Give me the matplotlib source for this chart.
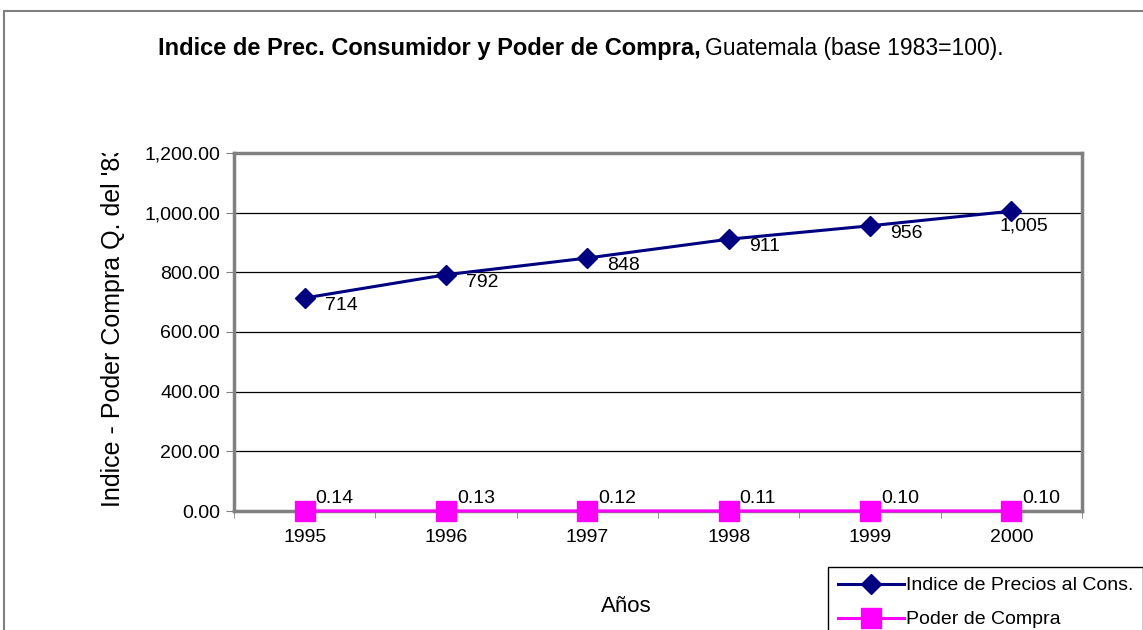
import matplotlib.pyplot as plt
from matplotlib.patches import Rectangle
from matplotlib.transforms import Bbox, TransformedBbox
from matplotlib.ticker import FuncFormatter

plt.rcParams['font.family'] = ['Liberation Sans', 'DejaVu Sans']

# Datos
anios = ['1995', '1996', '1997', '1998', '1999', '2000']
indice_precios = [714, 792, 848, 911, 956, 1005]
poder_compra = [0.14, 0.13, 0.12, 0.11, 0.10, 0.10]
etiquetas_indice = ['714', '792', '848', '911', '956', '1,005']
etiquetas_poder = ['0.14', '0.13', '0.12', '0.11', '0.10', '0.10']

W, H = 1143, 630
fig = plt.figure(figsize=(W / 100, H / 100), dpi=100)

# borde del area del grafico (estilo Excel)
fig.patches.append(Rectangle((4 / W, -0.1), 1.2, 1 - 11 / H + 0.1, transform=fig.transFigure,
                             facecolor='none', edgecolor='#808080', linewidth=1.5))

ax = fig.add_axes([234 / W, 1 - 511 / H, (1082 - 234) / W, (511 - 153) / H])
x = list(range(len(anios)))

ax.plot(x, indice_precios, color='#000080', linewidth=2.2, marker='D', markersize=10,
        label='Indice de Precios al Cons.', zorder=3, clip_on=False)
ax.plot(x, poder_compra, color='#FF00FF', linewidth=2.2, marker='s', markersize=14,
        label='Poder de Compra', zorder=3, clip_on=False)

ax.set_xlim(-0.5, len(anios) - 0.5)
ax.set_ylim(0, 1200)
ax.set_yticks(range(0, 1201, 200))
ax.yaxis.set_major_formatter(FuncFormatter(lambda v, p: f'{v:,.2f}'))
ax.grid(axis='y', color='black', linewidth=0.9)
ax.set_axisbelow(True)

ax.set_xticks(x)
ax.set_xticklabels(anios)
ax.set_xticks([i - 0.5 for i in range(len(anios) + 1)], minor=True)
ax.tick_params(axis='x', which='major', length=0, pad=13, labelsize=14)
ax.tick_params(axis='x', which='minor', length=5, direction='out', color='#808080')
ax.tick_params(axis='y', length=6, direction='out', labelsize=14, pad=4, color='#808080')

for s in ax.spines.values():
    s.set_color('#808080')
    s.set_linewidth(2.5)

# etiquetas de datos
for i, (v, t) in enumerate(zip(indice_precios, etiquetas_indice)):
    dx = 20 if i < len(anios) - 1 else -12
    dy = 1 if i < len(anios) - 1 else -6
    ax.annotate(t, (i, v), xytext=(dx, dy), textcoords='offset pixels',
                ha='left', va='top', fontsize=14)
for i, (v, t) in enumerate(zip(poder_compra, etiquetas_poder)):
    ax.annotate(t, (i, v), xytext=(11, 4), textcoords='offset pixels',
                ha='left', va='bottom', fontsize=14)

# titulo en dos partes
fig.text(158 / W, 1 - 48 / H, 'Indice de Prec. Consumidor y Poder de Compra,',
         fontsize=17, fontweight='bold', ha='left', va='center')
fig.text(705 / W, 1 - 48 / H, 'Guatemala (base 1983=100).',
         fontsize=16.5, ha='left', va='center')

fig.text(626 / W, 1 - 606 / H, 'Años', fontsize=16, ha='center', va='center')

yl = fig.text(113 / W, 1 - 507 / H, "Indice - Poder Compra Q. del '83",
              fontsize=18, rotation=90, ha='center', va='bottom')
yl.set_clip_box(TransformedBbox(Bbox.from_extents(0, 0, 1, 1 - 153 / H), fig.transFigure))
yl.set_clip_on(True)

leg = fig.legend(loc='upper left', bbox_to_anchor=(828 / W, 1 - 567 / H), fontsize=14,
                 handlelength=3.4, handletextpad=0.1, labelspacing=0.85, borderpad=0.5,
                 borderaxespad=0, fancybox=False, framealpha=1, edgecolor='black')
leg.get_frame().set_linewidth(1.0)

fig.savefig('out.png', dpi=100)
